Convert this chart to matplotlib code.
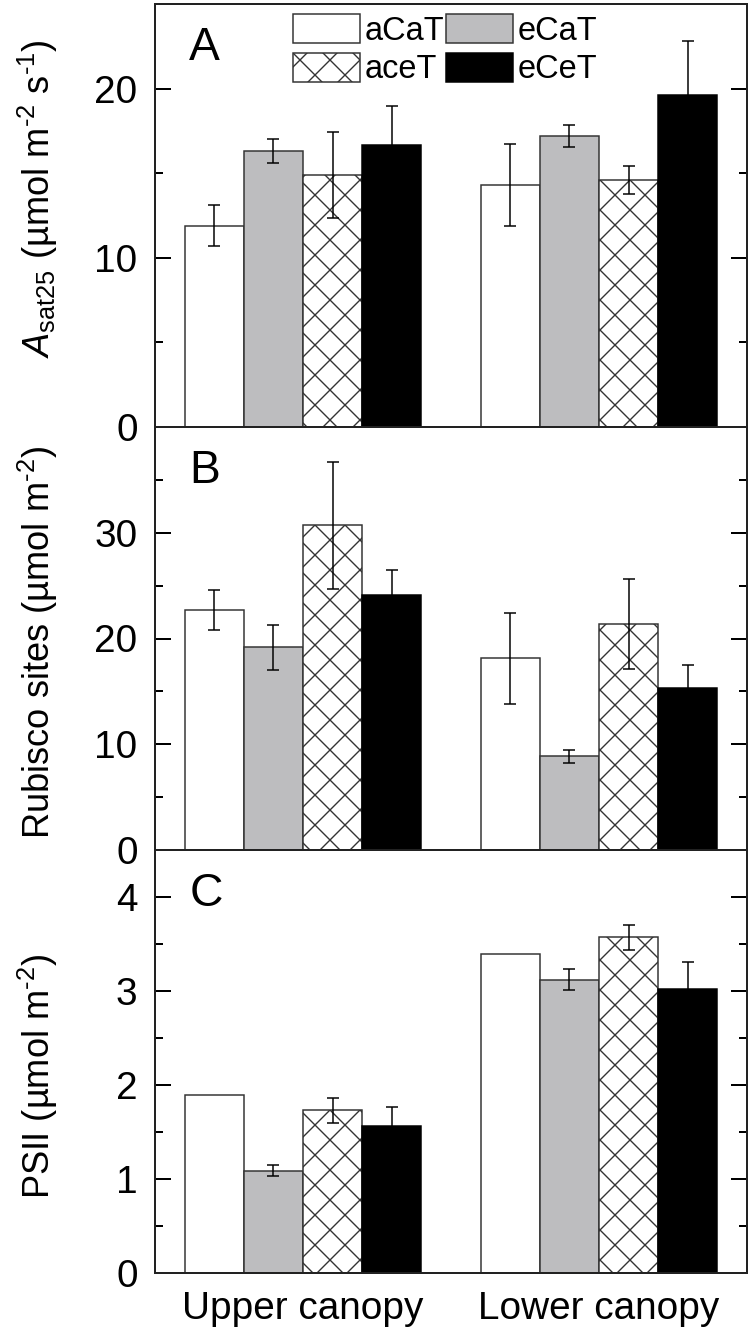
import numpy as np
import matplotlib
matplotlib.use('Agg')
import matplotlib.pyplot as plt
from matplotlib.ticker import MultipleLocator

plt.rcParams['font.family'] = ['Liberation Sans', 'DejaVu Sans']
plt.rcParams['mathtext.fontset'] = 'custom'
plt.rcParams['mathtext.rm'] = 'Liberation Sans'
plt.rcParams['mathtext.it'] = 'Liberation Sans:italic'
plt.rcParams['hatch.linewidth'] = 0.55
plt.rcParams['hatch.color'] = '#333333'

treatments = ['aCaT', 'eCaT', 'aceT', 'eCeT']
canopy = ['Upper canopy', 'Lower canopy']

# A: Asat25
asat_upper = [11.9, 16.3, 14.9, 16.65]
asat_upper_err = [1.2, 0.7, 2.55, 2.3]
asat_lower = [14.3, 17.2, 14.6, 19.6]
asat_lower_err = [2.45, 0.65, 0.85, 3.2]

# B: Rubisco sites
rub_upper = [22.7, 19.15, 30.7, 24.15]
rub_upper_err = [1.85, 2.15, 6.0, 2.35]
rub_lower = [18.15, 8.85, 21.4, 15.3]
rub_lower_err = [4.3, 0.62, 4.25, 2.2]

# C: PSII
psii_upper = [1.89, 1.09, 1.73, 1.56]
psii_upper_err = [0, 0.06, 0.13, 0.21]
psii_lower = [3.39, 3.12, 3.57, 3.02]
psii_lower_err = [0, 0.11, 0.13, 0.29]

colors = ['white', '#bdbdbf', 'white', 'black']
edges = ['#333333', '#333333', '#333333', 'black']
hatches = [None, None, 'xx', None]

panels = [
    ('A', [asat_upper, asat_lower], [asat_upper_err, asat_lower_err], 25, 10, 5,
     r'$\mathit{A}_{\mathrm{sat25}}$ (µmol m$^{\text{-2}}$ s$^{\text{-1}}$)', 0.54),
    ('B', [rub_upper, rub_lower], [rub_upper_err, rub_lower_err], 40, 10, 5,
     r'Rubisco sites (µmol m$^{\text{-2}}$)', 0.49),
    ('C', [psii_upper, psii_lower], [psii_upper_err, psii_lower_err], 4.5, 1, 0.5,
     r'PSII (µmol m$^{\text{-2}}$)', 0.465),
]

fig, axes = plt.subplots(3, 1, figsize=(750 / 180, 1334 / 180), dpi=180, sharex=True)
fig.subplots_adjust(left=155 / 750, right=747 / 750, top=1 - 4 / 1334,
                    bottom=1 - 1273 / 1334, hspace=0)

for ax, (letter, vals, errs, ymax, major, minor, ylabel, ly) in zip(axes, panels):
    handles = []
    for g in range(2):
        x = np.arange(4) + 1 + 5 * g
        for i in range(4):
            b = ax.bar(x[i], vals[g][i], width=1.0, color=colors[i], edgecolor=edges[i],
                       hatch=hatches[i], linewidth=0.6, zorder=2, label=treatments[i])
            if g == 0:
                handles.append(b)
            if errs[g][i] > 0:
                ax.errorbar(x[i], vals[g][i], yerr=errs[g][i], fmt='none', ecolor='black',
                            elinewidth=0.6, capsize=2.45, capthick=0.6, zorder=3)
    ax.set_xlim(0, 10)
    ax.set_ylim(0, ymax)
    ax.yaxis.set_major_locator(MultipleLocator(major))
    ax.yaxis.set_minor_locator(MultipleLocator(minor))
    ticks = [t for t in np.arange(0, ymax + 1e-9, major) if t < ymax - 1e-9]
    ax.set_yticks(ticks)
    ax.tick_params(axis='y', which='both', direction='in', left=True, right=True,
                   width=0.8, labelsize=15.5, pad=7)
    ax.tick_params(axis='y', which='major', length=6.3)
    ax.tick_params(axis='y', which='minor', length=3.3)
    ax.tick_params(axis='x', length=0, labelsize=15.5, pad=7)
    for s in ax.spines.values():
        s.set_linewidth(0.8)
        s.set_color('#222222')
    ax.set_ylabel(ylabel, fontsize=14.5)
    ax.yaxis.set_label_coords(-0.16, ly)
    ax.text(0.058, 0.895, letter, transform=ax.transAxes, fontsize=18.5,
            ha='left', va='center')
    if letter == 'A':
        order = [0, 2, 1, 3]
        ax.legend([handles[k] for k in order], [treatments[k] for k in order],
                  ncol=2, frameon=False, loc='upper left',
                  bbox_to_anchor=(0.233, 0.976), borderaxespad=0, borderpad=0,
                  fontsize=13, handlelength=2.06, handleheight=1.0,
                  handletextpad=0.15, columnspacing=0.05, labelspacing=0.18)

axes[-1].set_xticks([2.5, 7.5])
axes[-1].set_xticklabels(canopy)

fig.savefig('out.png', dpi=180)
